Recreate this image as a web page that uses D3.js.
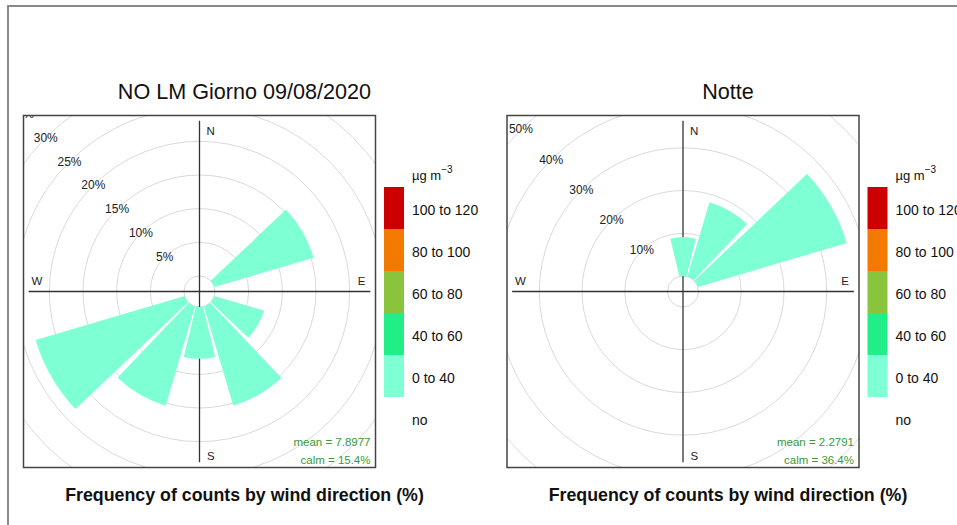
<!DOCTYPE html>
<html>
<head>
<meta charset="utf-8">
<script src="https://cdn.jsdelivr.net/npm/d3@7"></script>
<style>
  html, body { margin: 0; padding: 0; background: #fff; }
  svg { display: block; font-family: "Liberation Sans", Arial, sans-serif; }
</style>
</head>
<body>
<svg id="chart" width="957" height="525"></svg>
<script>
// Wind direction bins (degrees, centre of each 30° sector)
const directions = [0, 30, 60, 90, 120, 150, 180, 210, 240, 270, 300, 330];

// Frequency (% of all counts) per sector, all in the 0–40 concentration band
const dayFreq   = [0, 0, 15.38, 0, 7.69, 15.38, 7.69, 15.38, 23.08, 0, 0, 0];
const nightFreq = [9.09, 18.18, 36.36, 0, 0, 0, 0, 0, 0, 0, 0, 0];

// Grid ring values (%)
const dayRings   = [5, 10, 15, 20, 25, 30, 35, 40];
const nightRings = [10, 20, 30, 40, 50, 60];

// Concentration legend (top to bottom)
const legendLabels = ["100 to 120", "80 to 100", "60 to 80", "40 to 60", "0 to 40", "no"];
const legendColors = ["#cd0000", "#f27a00", "#8ac43c", "#22ee88", "#7fffd4", null];

const panelTitles = ["NO LM Giorno 09/08/2020", "Notte"];
const statMean = ["mean = 7.8977", "mean = 2.2791"];
const statCalm = ["calm = 15.4%", "calm = 36.4%"];
const footer = "Frequency of counts by wind direction (%)";

const svg = d3.select("#chart");

// outer frame
svg.append("path")
  .attr("d", "M8,525 L8,6 L957,6")
  .attr("fill", "none")
  .attr("stroke", "#8a8a8a")
  .attr("stroke-width", 2);

const half = 176;            // half the side of the square rose panel
const seg = 0.9;             // fraction of the 30° sector filled by each wedge
const sector = 30;

function drawRose(idx, cx, cy, freq, rings) {
  const g = svg.append("g");
  const maxFreq = d3.max(freq);
  const off = maxFreq * 0.1;
  const r = d3.scaleLinear().domain([0, 1.03 * (maxFreq + off)]).range([0, half]);
  const rad = v => r(v + off);

  const clipId = "clip" + idx;
  svg.append("clipPath").attr("id", clipId)
    .append("rect")
    .attr("x", cx - half).attr("y", cy - half)
    .attr("width", 2 * half).attr("height", 2 * half);

  const inner = g.append("g").attr("clip-path", `url(#${clipId})`);

  // grid rings, including the calm circle
  inner.selectAll("circle.ring")
    .data([0].concat(rings))
    .join("circle")
    .attr("cx", cx).attr("cy", cy)
    .attr("r", d => rad(d))
    .attr("fill", "none")
    .attr("stroke", "#d9d9d9")
    .attr("stroke-width", 1);

  // compass axes
  const axLen = r(maxFreq + off);
  inner.append("line")
    .attr("x1", cx).attr("x2", cx)
    .attr("y1", cy - axLen).attr("y2", cy + axLen)
    .attr("stroke", "#333").attr("stroke-width", 1.3);
  inner.append("line")
    .attr("x1", cx - axLen).attr("x2", cx + axLen)
    .attr("y1", cy).attr("y2", cy)
    .attr("stroke", "#333").attr("stroke-width", 1.3);

  // wedges
  const arc = d3.arc();
  const toRad = Math.PI / 180;
  inner.selectAll("path.wedge")
    .data(directions.map((d, i) => ({ dir: d, v: freq[i] })).filter(d => d.v > 0))
    .join("path")
    .attr("transform", `translate(${cx},${cy})`)
    .attr("d", d => arc({
      innerRadius: rad(0),
      outerRadius: rad(d.v),
      startAngle: (d.dir - seg * sector / 2) * toRad,
      endAngle: (d.dir + seg * sector / 2) * toRad
    }))
    .attr("fill", legendColors[4]);

  // ring labels along the 315° bearing
  inner.selectAll("text.ringlab")
    .data(rings)
    .join("text")
    .attr("x", d => cx - rad(d) * Math.SQRT1_2)
    .attr("y", d => cy - rad(d) * Math.SQRT1_2)
    .attr("text-anchor", "middle")
    .attr("dominant-baseline", "central")
    .attr("font-size", 12)
    .attr("fill", "#222")
    .text(d => d + "%");

  // compass letters
  const cl = [
    { t: "N", x: cx + 0.066 * axLen, y: cy - 0.937 * axLen },
    { t: "S", x: cx + 0.066 * axLen, y: cy + 0.962 * axLen },
    { t: "W", x: cx - 0.952 * axLen, y: cy - 0.06 * axLen },
    { t: "E", x: cx + 0.948 * axLen, y: cy - 0.06 * axLen }
  ];
  inner.selectAll("text.compass")
    .data(cl)
    .join("text")
    .attr("x", d => d.x).attr("y", d => d.y)
    .attr("text-anchor", "middle")
    .attr("dominant-baseline", "central")
    .attr("font-size", 11.5)
    .attr("fill", "#222")
    .text(d => d.t);

  // statistics
  g.append("text")
    .attr("x", cx + half - 5).attr("y", cy + 150)
    .attr("text-anchor", "end").attr("dominant-baseline", "central")
    .attr("font-size", 11.5).attr("fill", "#3a9a3a")
    .text(statMean[idx]);
  g.append("text")
    .attr("x", cx + half - 5).attr("y", cy + 168.5)
    .attr("text-anchor", "end").attr("dominant-baseline", "central")
    .attr("font-size", 11.5).attr("fill", "#3a9a3a")
    .text(statCalm[idx]);

  // panel frame
  g.append("rect")
    .attr("x", cx - half).attr("y", cy - half)
    .attr("width", 2 * half).attr("height", 2 * half)
    .attr("fill", "none").attr("stroke", "#444").attr("stroke-width", 1.5);

  // legend
  const lx = cx + half + 8.5;
  const boxH = 42;
  const ly = d3.scaleBand().domain(d3.range(legendLabels.length))
    .range([187, 187 + boxH * legendLabels.length]);
  const lg = g.append("g");
  lg.selectAll("rect")
    .data(legendColors.map((c, i) => ({ c, i })).filter(d => d.c))
    .join("rect")
    .attr("x", lx).attr("y", d => ly(d.i))
    .attr("width", 20).attr("height", ly.bandwidth())
    .attr("fill", d => d.c);
  lg.selectAll("text.leglab")
    .data(legendLabels)
    .join("text")
    .attr("x", lx + 28)
    .attr("y", (d, i) => ly(i) + ly.bandwidth() / 2 + 2)
    .attr("dominant-baseline", "central")
    .attr("font-size", 14)
    .attr("fill", "#111")
    .text(d => d);
  const unit = lg.append("text")
    .attr("x", lx + 28).attr("y", 180)
    .attr("font-size", 13).attr("fill", "#111");
  unit.append("tspan").text("\u00b5g m");
  unit.append("tspan").attr("dy", -7).attr("font-size", 10).text("\u22123");

  // titles
  const tcx = cx + 45;
  g.append("text")
    .attr("x", tcx).attr("y", 91)
    .attr("text-anchor", "middle").attr("dominant-baseline", "central")
    .attr("font-size", 21.6).attr("fill", "#111")
    .text(panelTitles[idx]);
  g.append("text")
    .attr("x", tcx).attr("y", 495)
    .attr("text-anchor", "middle").attr("dominant-baseline", "central")
    .attr("font-size", 17.8).attr("font-weight", "bold").attr("fill", "#111")
    .text(footer);
}

drawRose(0, 199.5, 291.5, dayFreq, dayRings);
drawRose(1, 683, 291.5, nightFreq, nightRings);
</script>
</body>
</html>
